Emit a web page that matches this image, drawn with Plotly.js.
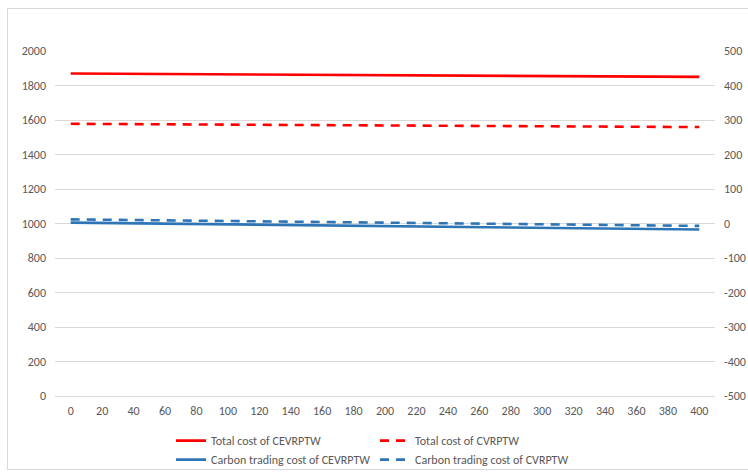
<!DOCTYPE html>
<html>
<head>
<meta charset="utf-8">
<script src="https://cdn.plot.ly/plotly-3.0.1.min.js"></script>
<style>
html,body{margin:0;padding:0;background:#fff;}
#wrap{position:relative;width:748px;height:474px;overflow:hidden;}
#frame{position:absolute;left:7px;top:8px;width:760px;height:462px;border:1.5px solid #d9d9d9;box-sizing:border-box;}
#chart{position:absolute;left:0;top:0;width:748px;height:474px;}
</style>
</head>
<body>
<div id="wrap"><div id="frame"></div><div id="chart"></div></div>
<script>
const xValues = [0,20,40,60,80,100,120,140,160,180,200,220,240,260,280,300,320,340,360,380,400];
const totalCEVRPTW = [1870,1869,1868,1867,1866,1865,1864,1863,1862,1861,1860,1859,1858,1857,1856,1855,1854,1853,1852,1851,1850];
const totalCVRPTW = [1578,1577,1576,1575,1574,1573,1572,1571,1570,1569,1568,1567,1567,1566,1565,1564,1563,1562,1561,1560,1559];
const carbonCEVRPTW = [2.5,1.5,0.5,-0.5,-1.5,-2.5,-3.5,-4.5,-5.5,-6.5,-7.5,-8.5,-9.5,-10.5,-11.5,-12.5,-13.5,-14.5,-15.5,-16.5,-17.5];
const carbonCVRPTW = [12,11,10,9,8,7,6,5,4,3,3,2,1,0,-1,-2,-3,-4,-5,-6,-7];
const names = ["Total cost of CEVRPTW","Total cost of CVRPTW","Carbon trading cost of CEVRPTW","Carbon trading cost of CVRPTW"];
const leftTicks = [0,200,400,600,800,1000,1200,1400,1600,1800,2000];
const rightTicks = [-500,-400,-300,-200,-100,0,100,200,300,400,500];
const rightTickText = ["-500","-400","-300","-200","-100","0","100","200","300","400","500"];

const red = "#FF0000", blue = "#2E75B6";
const traces = [
  {x:xValues, y:totalCEVRPTW, name:names[0], mode:"lines", line:{color:red,width:2.6}, yaxis:"y", legend:"legend"},
  {x:xValues, y:totalCVRPTW, name:names[1], mode:"lines", line:{color:red,width:2.6,dash:"9px,7px"}, yaxis:"y", legend:"legend2"},
  {x:xValues, y:carbonCEVRPTW, name:names[2], mode:"lines", line:{color:blue,width:2.6}, yaxis:"y2", legend:"legend"},
  {x:xValues, y:carbonCVRPTW, name:names[3], mode:"lines", line:{color:blue,width:2.6,dash:"9px,7px"}, yaxis:"y2", legend:"legend2"}
];
const font = {family:"Carlito, 'Liberation Sans', 'Open Sans', sans-serif", size:12, color:"#595959"};
const legendBase = {orientation:"v", xref:"container", yref:"container", xanchor:"left", y:0.101, yanchor:"top", font:font, traceorder:"normal", itemwidth:30, tracegroupgap:0, bgcolor:"rgba(0,0,0,0)"};
const layout = {
  width:748, height:474,
  margin:{l:55, r:33, t:51, b:78, autoexpand:false},
  paper_bgcolor:"rgba(0,0,0,0)", plot_bgcolor:"rgba(0,0,0,0)",
  font:font,
  showlegend:true,
  xaxis:{range:[-10,410], tickvals:xValues, ticktext:xValues.map(String), showgrid:false, zeroline:false, showline:false, ticks:"", tickfont:font, ticklabelstandoff:6, fixedrange:true, automargin:false},
  yaxis:{range:[0,2000], tickvals:leftTicks, ticktext:leftTicks.map(String), showgrid:true, gridcolor:"#d9d9d9", gridwidth:1, zeroline:true, zerolinecolor:"#d9d9d9", zerolinewidth:1, ticks:"", tickfont:font, ticklabelstandoff:8, automargin:false},
  yaxis2:{range:[-500,500], tickvals:rightTicks, ticktext:rightTickText, overlaying:"y", side:"right", showgrid:false, zeroline:false, ticks:"", tickfont:font, ticklabelstandoff:8, automargin:false},
  legend:Object.assign({}, legendBase, {x:171/748}),
  legend2:Object.assign({}, legendBase, {x:375/748})
};
Plotly.newPlot("chart", traces, layout, {displayModeBar:false, staticPlot:true});
</script>
</body>
</html>
